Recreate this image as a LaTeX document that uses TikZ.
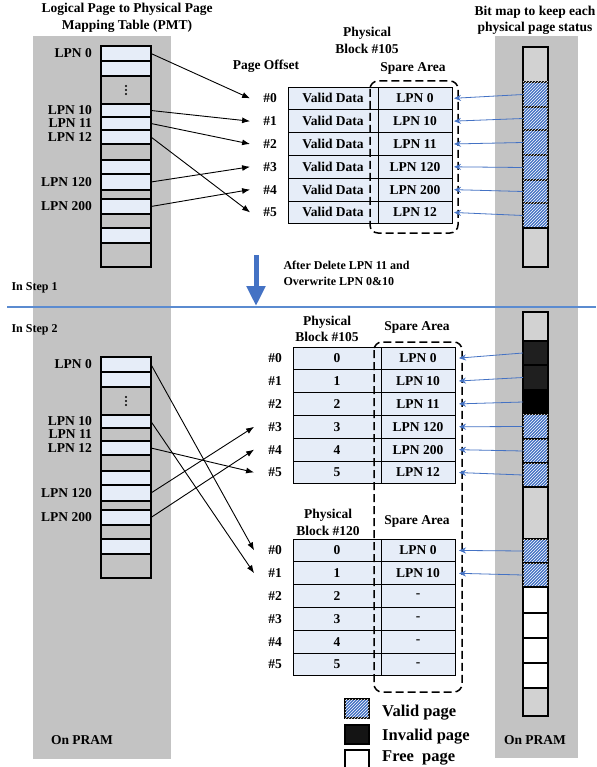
\documentclass[tikz,border=0pt]{standalone}
\usepackage{fontspec}
\setmainfont{Liberation Serif}
\usetikzlibrary{positioning, arrows.meta, calc, patterns}
\definecolor{lite}{HTML}{E6EDF8}
\definecolor{pram}{HTML}{C3C3C3}
\definecolor{cellgray}{HTML}{D2D2D2}
\definecolor{hatch}{HTML}{4472C4}
\definecolor{link}{HTML}{4472C4}
\definecolor{rulecol}{HTML}{5B8BD0}

\begin{document}
\begin{tikzpicture}[x=1pt, y=-1pt,
  font=\fontsize{13.5}{16.5}\selectfont\bfseries,
  pmtcell/.style={draw, line width=1.1pt, minimum width=50pt, inner sep=0pt, outer sep=0pt},
  lbl/.style={inner sep=0pt},
  dcell/.style={draw, line width=0.9pt, fill=lite, minimum height=22.8pt, inner sep=0pt, outer sep=0pt},
  ofs/.style={inner sep=0pt},
  bit/.style={draw, line width=1.1pt, minimum width=25pt, inner sep=0pt, outer sep=0pt},
  valid/.style={fill=hatch, postaction={pattern=north east lines, pattern color=white}},
  invalid/.style={fill=black!88},
  dead/.style={fill=black},
  free/.style={fill=white},
  idle/.style={fill=cellgray},
  legbox/.style={draw, line width=1.1pt, minimum width=24pt, minimum height=19pt, inner sep=0pt},
  legtxt/.style={font=\fontsize{16.5}{18}\selectfont\bfseries, anchor=west, inner sep=0pt},
  steptxt/.style={font=\fontsize{12}{15.5}\selectfont\bfseries},
  lpnarrow/.style={-{Latex[length=8pt,width=6pt]}, line width=0.9pt},
  bitarrow/.style={-{Stealth[length=7pt,width=6pt]}, link, line width=0.8pt},
  sparebox/.style={dash pattern=on 8pt off 4pt, line width=1.5pt, rounded corners=8pt},
]
  \useasboundingbox (0,0) rectangle (596,767);
  \fill[white] (0,0) rectangle (596,767);
  \fill[pram] (33,36) rectangle (171,759);
  \fill[pram] (495,36) rectangle (578,758);
  \draw[rulecol, line width=1.5pt] (7,307) -- (596,307);

  % mapping tables
  \foreach \s/\dy/\c in {a/0/lite, b/311/pram}{
    \foreach \t/\b/\f/\n in {46/61/lite/lpn0, 61/76/lite/r1, 76/104/pram/gap,
        104/117/lite/lpn10, 117/130/\c/lpn11, 130/144/lite/lpn12, 144/160/pram/r2,
        160/174/lite/r3, 174/190/lite/lpn120, 190/199/pram/r4, 199/214/lite/lpn200,
        214/228/pram/r5, 228/243/lite/r6, 243/267/pram/r7}{
      \pgfmathsetmacro\h{\b-\t}
      \pgfmathsetmacro\m{(\t+\b)/2+\dy}
      \node[pmtcell, fill=\f, minimum height=\h pt] (\s-\n) at (126,\m) {};
    }
    \foreach \d in {-4,0,4}
      \fill ([yshift=\d pt]\s-gap) circle (1.1pt);
    \draw[line width=1.5pt] (\s-lpn0.north west) rectangle (\s-r7.south east);
    \foreach \n/\tx in {lpn0/LPN 0, lpn10/LPN 10, lpn11/LPN 11, lpn12/LPN 12,
        lpn120/LPN 120, lpn200/LPN 200}
      \node[lbl, left=9pt of \s-\n] (\s-\n-t) {\tx};
  }

  % physical blocks
  \foreach \k/\tx in {0/LPN 0, 1/LPN 10, 2/LPN 11, 3/LPN 120, 4/LPN 200, 5/LPN 12}{
    \node[dcell, minimum width=90pt] (p1d\k) at (333,{98.4+22.8*\k}) {Valid Data};
    \node[dcell, minimum width=74pt, right=0pt of p1d\k] (p1s\k) {\tx};
    \node[ofs, left=11pt of p1d\k] (p1o\k) {\#\k};
    \coordinate (p1i\k) at ([xshift=-13pt]p1o\k.west);
    \node[dcell, minimum width=88pt] (p2d\k) at (337,{358.4+22.8*\k}) {\k};
    \node[dcell, minimum width=74pt, right=0pt of p2d\k] (p2s\k) {\tx};
    \node[ofs, left=11pt of p2d\k] (p2o\k) {\#\k};
    \coordinate (p2i\k) at ([xshift=-14pt]p2o\k.west);
  }
  \foreach \k/\tx in {0/LPN 0, 1/LPN 10, 2/-, 3/-, 4/-, 5/-}{
    \node[dcell, minimum width=88pt] (p3d\k) at (337,{550.4+22.8*\k}) {\k};
    \node[dcell, minimum width=74pt, right=0pt of p3d\k] (p3s\k) {\tx};
    \node[ofs, left=11pt of p3d\k] (p3o\k) {\#\k};
    \coordinate (p3i\k) at ([xshift=-14pt]p3o\k.west);
  }
  \draw[sparebox] (370,81) rectangle (458,233);
  \draw[sparebox] (374,342) rectangle (462,692);

  % bit maps
  \foreach \t/\b/\k [count=\i from 0] in {47/82/idle, 82/107/valid, 107/130/valid,
      130/155/valid, 155/180/valid, 180/203/valid, 203/228/valid, 228/267/idle}{
    \pgfmathsetmacro\h{\b-\t}
    \pgfmathsetmacro\m{(\t+\b)/2}
    \node[bit, \k, minimum height=\h pt] (c\i) at (535.5,\m) {};
  }
  \foreach \t/\b/\k [count=\i from 0] in {312/341/idle, 341/365/invalid, 365/390/invalid,
      390/414/dead, 414/439/valid, 439/463/valid, 463/487/valid, 487/539/idle,
      539/563/valid, 563/587/valid, 587/613/free, 613/638/free, 638/663/free,
      663/688/free, 688/716/idle}{
    \pgfmathsetmacro\h{\b-\t}
    \pgfmathsetmacro\m{(\t+\b)/2}
    \node[bit, \k, minimum height=\h pt] (d\i) at (535.5,\m) {};
  }

  % texts
  \node[align=center] (pmthead) at (127,18) {Logical Page to Physical Page\\Mapping Table (PMT)};
  \node[align=center] (bithead) at (535,20.5) {Bit map to keep each\\physical page status};
  \node[align=center] (blk1) at (367,40.5) {Physical\\Block \#105};
  \node (ofshead) at (266,66) {Page Offset};
  \node (sp1) at (413,68) {Spare Area};
  \node[steptxt, anchor=west] (step1) at (8,288) {In Step 1};
  \node[steptxt, anchor=west] (step2) at (8,330) {In Step 2};
  \node[steptxt, anchor=west, align=left] (note) at (280,273.5) {After Delete LPN 11 and\\Overwrite LPN 0\&10};
  \node[align=center] (blk2) at (327,329) {Physical\\Block \#105};
  \node (sp2) at (417,327) {Spare Area};
  \node[align=center] (blk3) at (328,522.5) {Physical\\Block \#120};
  \node (sp3) at (417,521) {Spare Area};
  \node (pramL) at (82,740) {On PRAM};
  \node (pramR) at (535,740) {On PRAM};

  % legend
  \node[legbox, valid] (kv) at (357,708.5) {};
  \node[legbox, fill=black!92] (ki) at (357,734.5) {};
  \node[legbox, free] (kf) at (357,759.5) {};
  \node[legtxt] (kvt) at (382,713) {Valid page};
  \node[legtxt] (kit) at (382,737) {Invalid page};
  \node[legtxt] (kft) at (382,758) {Free\ \ page};

  % step arrow
  \coordinate (dn0) at (256,255);
  \coordinate (dn1) at (256,306);
  \draw[link, line width=5pt, -{Triangle[length=20pt,width=18pt]}] (dn0) -- (dn1);

  % mapping arrows
  \foreach \f/\k in {lpn0/0, lpn10/1, lpn11/2, lpn12/5, lpn120/3, lpn200/4}
    \draw[lpnarrow] (a-\f.east) -- (p1i\k);
  \foreach \f/\k in {lpn12/5, lpn120/3, lpn200/4}
    \draw[lpnarrow] (b-\f.east) -- (p2i\k);
  \draw[lpnarrow] (b-lpn0.east) -- (p3i0);
  \draw[lpnarrow] (b-lpn10.east) -- (p3i1);

  % status arrows
  \foreach \k [evaluate=\k as \i using int(\k+1)] in {0,...,5}{
    \draw[bitarrow, shorten >=2pt] (c\i.west) -- (p1s\k.east);
    \draw[bitarrow, shorten >=4pt] (d\i.west) -- (p2s\k.east);
  }
  \draw[bitarrow, shorten >=4pt] (d8.west) -- (p3s0.east);
  \draw[bitarrow, shorten >=4pt] (d9.west) -- (p3s1.east);
\end{tikzpicture}
\end{document}
